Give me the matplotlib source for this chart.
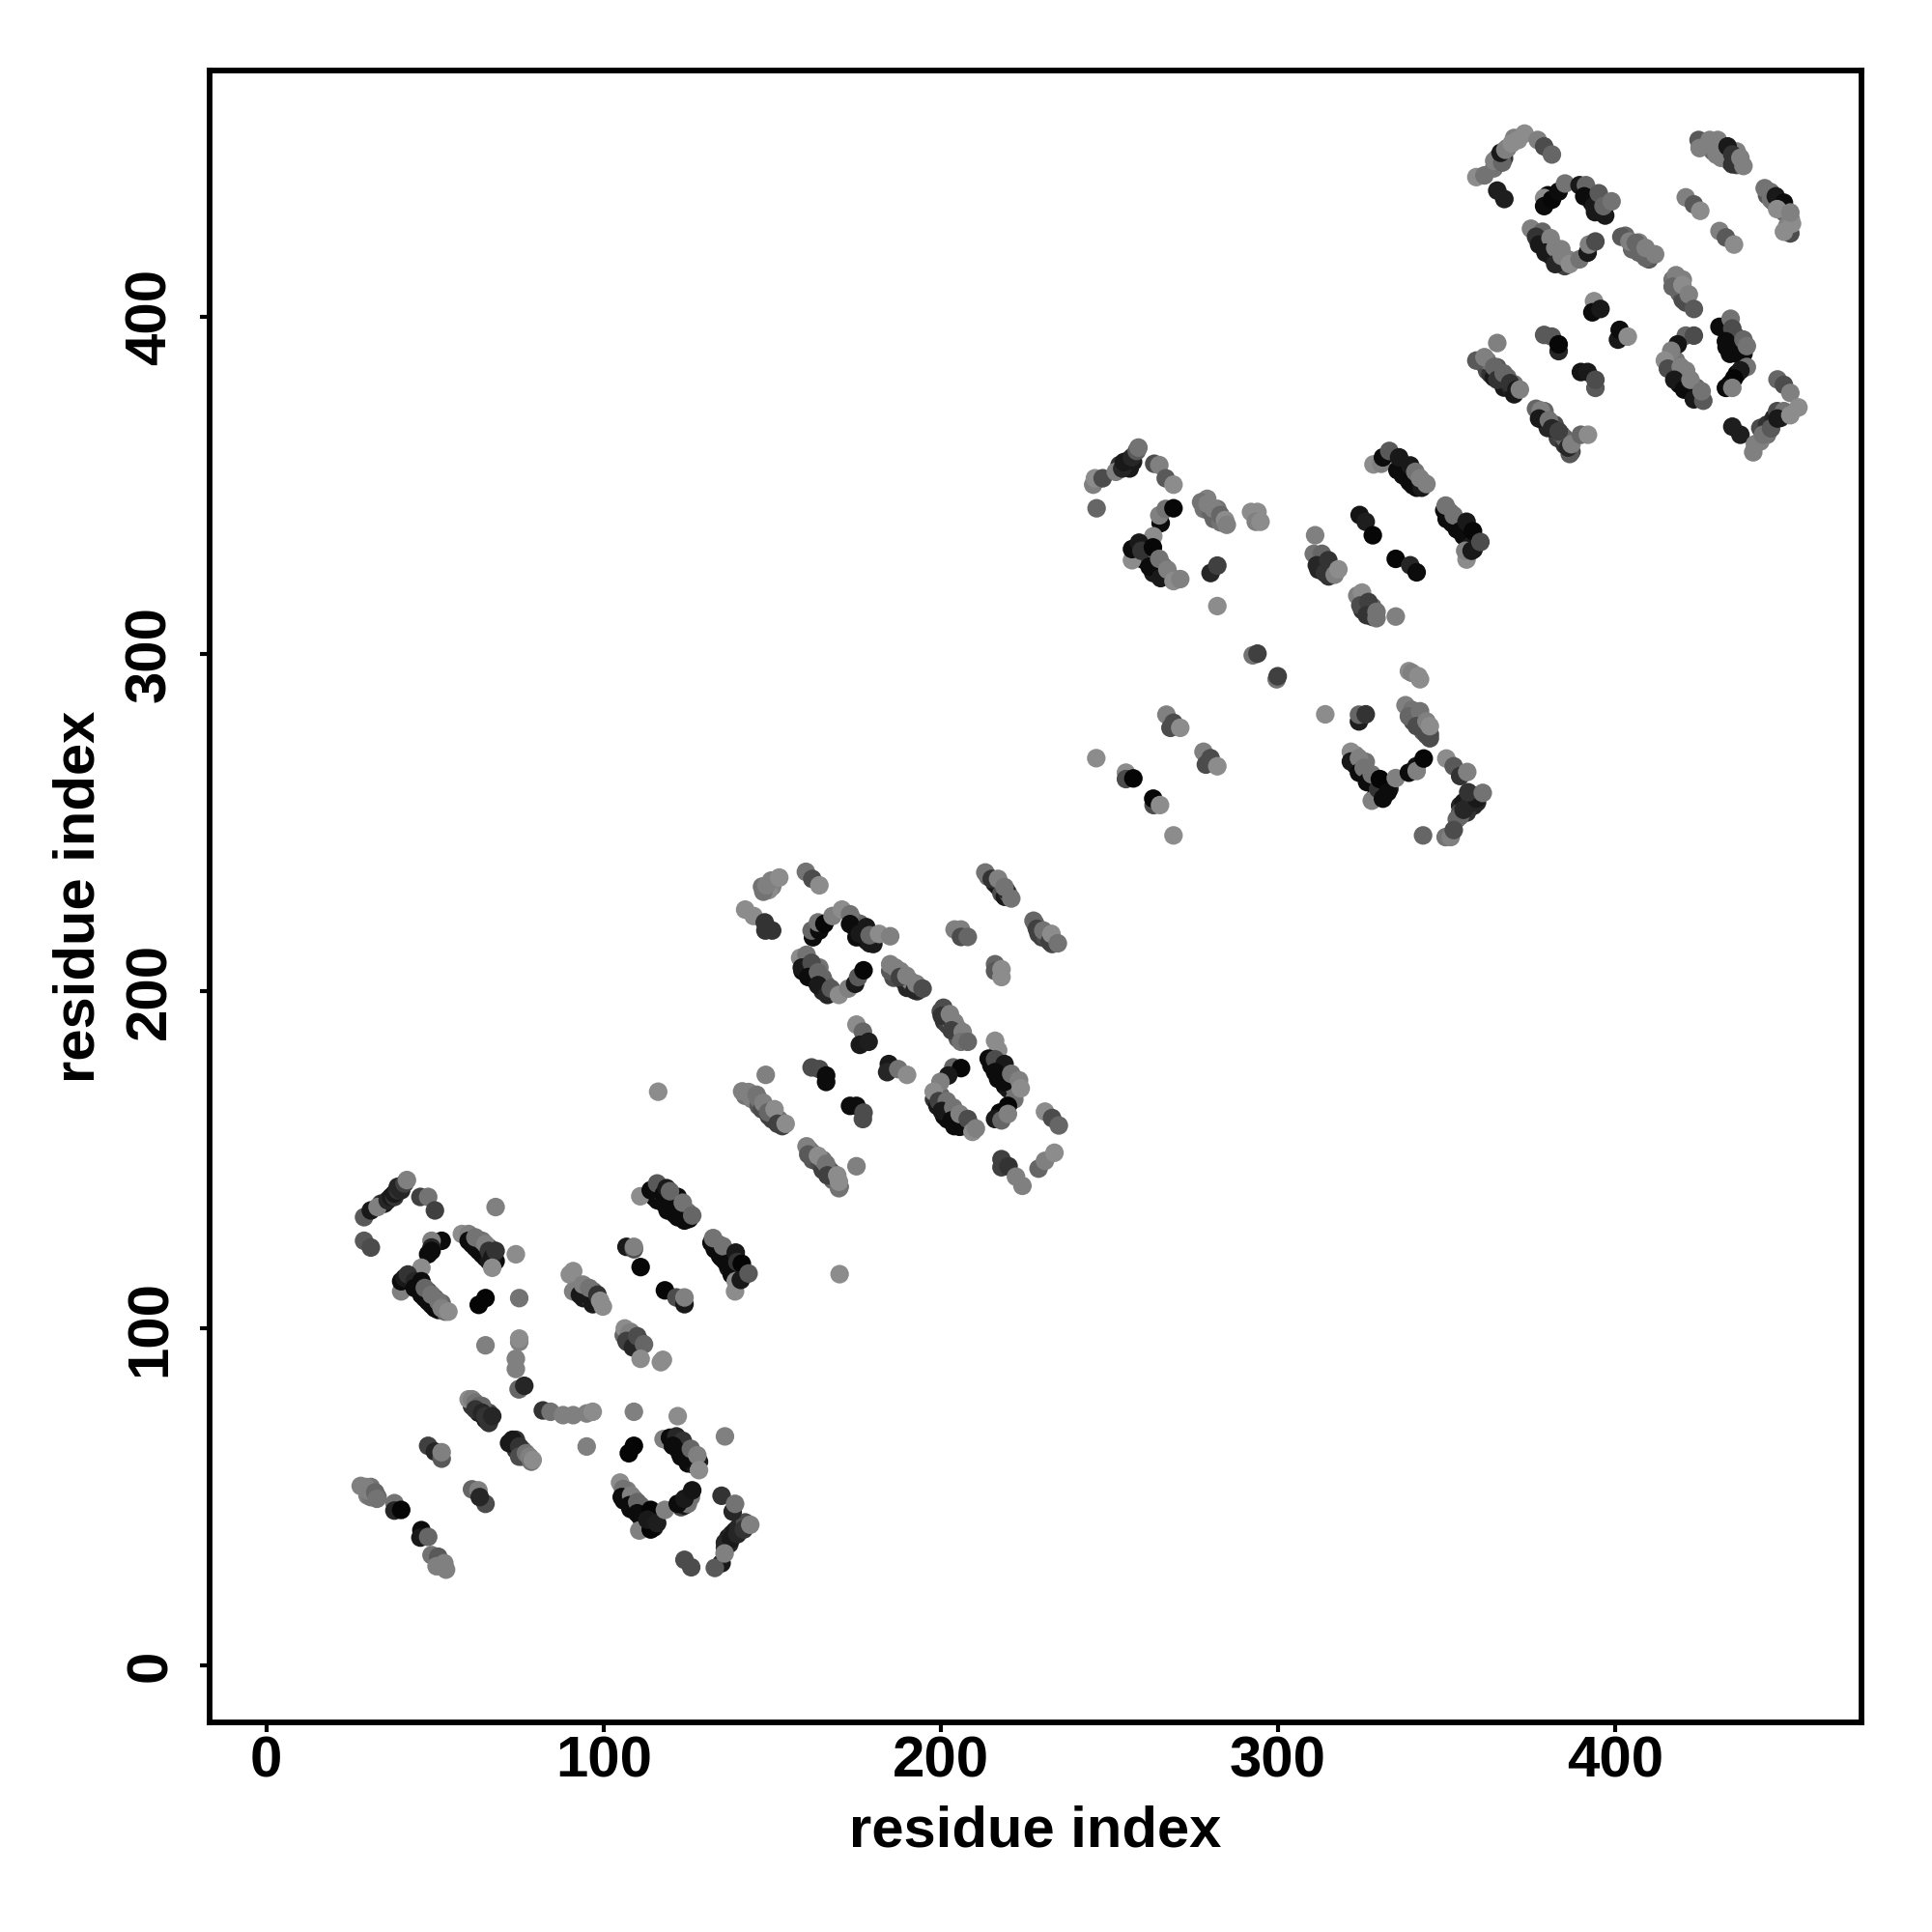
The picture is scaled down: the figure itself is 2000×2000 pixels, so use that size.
# -*- coding=utf-8 -*-
import matplotlib
matplotlib.use('Agg')
import matplotlib.pyplot as plt
import numpy as np

plt.rcParams['font.family'] = ['Liberation Sans', 'DejaVu Sans']
plt.rcParams['font.weight'] = 'bold'

# (residue i, residue j, grey level), one list per repeat
block1 = [
    (29,133,.35),(31,135,.1),(33,136,.5),(36,138,.15),(37,139,.1),(38,139,.2),(38,140,.1),(39,141,.2),
    (39,142,.15),(40,141,.15),(41,143,.25),(41.7,144,.5),(45.7,139,.25),(48,139,.45),(50,135,.25),
    (29,126,.35),(31,124,.3),(52,126,.05),(49,126,.5),(49,124,.15),(48,122,.05),(49,123,.05),(46,118,.55),
    (58,128,.55),(60,128,.5),(60,126,.05),(62,124,.05),(64,122,.05),(66,120,.1),(68,120,.05),
    (62,127,.45),(64,126,.45),(65,125,.5),(66,123,.2),(67,121,.1),(68,123,.2),(67,118,.55),(74,122,.55),(68,136,.5),
    (40,111,.5),(40,114,.05),(41,115,.1),(42,116,.2),(44,114,.15),(46,114,.05),(44,112,.05),(46,110,.05),
    (48,108,.05),(50,106,.05),(47,112,.4),(49,110,.45),(51,108,.45),(52,106,.5),(54,105,.55),
    (63,107,.02),(65,109,.02),(75,109,.45),(65,95,.5),(75,96,.5),(75,97,.55),(74,91,.5),(74,88,.5),
    (74.8,82,.45),(75,82,.4),(76.5,83,.15),
    (60,79,.55),(61,79,.5),(62,78,.45),(63,77,.4),(62,76,.2),(64,75,.15),(65,74,.2),(66,72,.2),(67,74,.15),
    (72,66,.1),(73,67,.1),(75,65,.2),(75,62,.3),(77,63,.45),(78,62,.5),(78.6,60.5,.45),(79,61,.55),
    (82,75.7,.2),(84.3,75.3,.45),(88,74.3,.5),(91,74.3,.5),(95,74.8,.5),(96.8,75.3,.55),
    (109,75.3,.5),(122,74,.55),(136,68,.5),(95,65,.5),(107.5,63,.02),(109,65.2,.02),
    (48,65.2,.25),(50,63.5,.15),(52,61.4,.35),(52,63.3,.5),
    (28,53.3,.5),(29.5,53,.5),(30,52,.5),(32.3,51.4,.4),(32.8,49.5,.45),(38,48.2,.45),(38,46,.15),(40,46.2,.02),
    (46,40.2,.05),(45.7,38,.1),(48,38.2,.4),(49,32.8,.45),(51,32.3,.35),(50.5,29.5,.5),(52.8,30.4,.5),(53.3,28.5,.5),
    (61,52.3,.4),(62.9,52,.5),(65,48,.3),(63.3,50,.15),
    (117.8,67.2,.5),(119.7,67.6,.05),(121.6,68,.15),(123.5,66.7,.2),(120.6,65.2,.05),(122.5,63.3,.05),
    (124.4,61.4,.05),(125.9,64.3,.4),(128.3,60.5,.1),(127.8,62.4,.5),(128.3,58,.55),
    (104.9,54.3,.55),(105.8,52.4,.45),(105.4,50,.05),(108.2,50.5,.5),(107.7,47.6,.05),(110,48.5,.4),(110,45.2,.05),
    (110.6,40.1,.5),(114,46.2,.02),(114,40.4,.02),(113,43.3,.1),(115.9,42.3,.12),(118.2,46.2,.5),
    (122,48,.05),(125.9,50,.45),(124,49.5,.1),(126.3,52,.08),
    (135,50.4,.2),(138.3,45.7,.15),(139,48,.45),(137.3,36.1,.15),(137.8,37.6,.1),(139.7,39,.15),(141.6,40.4,.2),(143.5,41.8,.5),
    (135,30.4,.1),(133,29,.35),(135.9,33.3,.5),(124,31.4,.3),(126,29.2,.3),
    (110.9,139.2,.55),(114,141,.05),(115.9,143,.35),(117.8,139.7,.05),(118.7,141.6,.1),(122,139,.05),(120.6,136.8,.05),
    (123.5,134.5,.05),(125.4,132.5,.05),(119.7,140.7,.4),(123.5,137.3,.45),(126.3,133.5,.4),
    (132,125.4,.05),(132.5,126.8,.45),(134.5,121.6,.05),(135.4,124.4,.45),(136.8,119.2,.05),(139.2,114,.55),(139,111,.55),
    (139.2,122.5,.1),(139.7,119.7,.2),(141,119.2,.02),(140.7,114.4,.1),(143,116.3,.35),
    (106.8,124.2,.1),(109,123.5,.3),(109,124.2,.5),(111,118.2,.03),(118.2,111.3,.03),(121.6,109.2,.3),(124,107.2,.1),(124,109.2,.5),
    (90,116,.55),(91,117,.55),(91,111,.5),(93,110,.1),(93.9,113,.5),(96.8,107.2,.1),(95.8,112,.45),(98.2,110,.2),(99,108.2,.55),(99.8,106.5,.55),
    (106.3,100,.55),(107.7,98.7,.5),(106.8,96.3,.25),(108.7,94.4,.15),(110,97.7,.3),(112,95.3,.4),(111,91,.55),(117,90,.55),(117.6,90.7,.55),
]
block2 = [
    (147.4,229.5,.45),(148.3,231.4,.5),(149.7,232.8,.5),(152.1,233.7,.55),(160,235.4,.45),(161.9,233.3,.3),(164,231.4,.55),
    (142,224.2,.55),(144.5,222.3,.55),(147.8,220.4,.2),(148,218,.2),(150,218,.2),
    (162.1,216,.05),(161.7,218,.4),(164,218,.05),(163.6,220.4,.45),(165.5,220,.03),(167.9,222.3,.5),(170.7,224.2,.55),
    (173.1,222.8,.45),(173.1,219.9,.05),(176,217,.1),(177.9,219,.1),(178.9,214.2,.1),(178.9,216.6,.4),(181.7,217,.55),(185,216.3,.5),
    (158.3,209.9,.55),(160.2,210.8,.45),(158.8,207,.1),(161.7,208.4,.3),(160.7,204.2,.05),(163.6,205.6,.4),(163.6,201.8,.1),
    (166.4,198.9,.15),(167.4,200.8,.35),(169.8,198.9,.55),(172.6,200.8,.5),(174.6,202.2,.1),(175.5,204.2,.35),(177.1,206.2,.03),
    (185,206,.35),(185,208,.5),(186.5,207,.5),(187.9,204.2,.25),(189.8,204.6,.5),(192.2,200.3,.15),(192.7,202.2,.5),(194.6,200.8,.3),
    (200.8,195.1,.3),(200.3,192.7,.2),(202.7,193.2,.5),(204.1,190.8,.5),(203.2,188.4,.25),(206.5,187.9,.5),(206,185,.45),(208,185,.4),
    (216.1,185.3,.55),(217,182.5,.55),
    (214.2,180,.05),(216.1,179.8,.3),(218.9,178.4,.1),(216.1,176,.05),(218.9,173.1,.05),(220.9,175.5,.45),(223.2,173.6,.5),
    (221.8,167.9,.45),(223.7,171.2,.55),(219.9,166,.02),(217.5,164,.03),(216.1,162.1,.1),(218,161.7,.4),(219.9,163.6,.5),
    (203.7,177.4,.4),(206,177.2,.03),(202.2,175,.1),(199.9,173.1,.5),(197.9,170.2,.55),(199.4,167.4,.25),
    (201.8,167.4,.45),(200.3,164.5,.1),(203.7,165.5,.45),(203.2,161.7,.05),(205.6,159.8,.05),(205.6,163.6,.5),(208,162.1,.3),
    (209.4,158.3,.55),(210.4,159.3,.5),
    (148.1,175.2,.5),(161.7,177.4,.3),(164,176.9,.3),(166,175,.05),(166,173.1,.05),
    (184.6,178.4,.1),(184.1,176,.15),(187.4,176.9,.45),(190,175.2,.55),
    (173.1,166,.05),(175,166,.05),(176.9,162.1,.3),(177.1,164,.3),
    (175,190.1,.55),(176.9,188,.4),(176,184.1,.1),(178.6,185,.12),
    (141.1,170.3,.5),(143,170.1,.5),(145.4,169.3,.45),(147.4,166.9,.5),(148.8,164.1,.4),(150.7,165,.55),(151.6,160.7,.25),(154,160.7,.55),
    (160.2,154,.5),(160.7,151.6,.35),(163.6,151.2,.55),(166,148.8,.45),(166.4,145.4,.25),(169.8,141.6,.45),(169.3,145.4,.55),(169.8,143.5,.55),
    (175,148.1,.5),(170,116.1,.55),(116.2,170.2,.55),
    (230.9,164.3,.55),(233,162.4,.3),(235,160.2,.4),
    (218,150.2,.25),(218,147.8,.25),(220.1,148.1,.2),(222.3,145,.5),(224.2,142.3,.5),
    (229,147.4,.4),(230.9,149.7,.5),(233.7,152.1,.55),
    (213.2,235.2,.45),(215.1,233.3,.2),(217,233.3,.5),(219.4,229.9,.15),(218.9,230.9,.45),(220.9,227.5,.45),
    (227.5,220.9,.4),(228.5,218.5,.25),(230.4,218,.45),(232.3,214.7,.25),(232.8,217,.55),(234.7,214.2,.45),
    (204.1,218.3,.5),(206,218.3,.5),(206,216.1,.3),(208,216.1,.4),
    (216.1,208,.4),(216.1,206,.35),(218,206.5,.55),(218,204.2,.55),
]
block3 = [
    (245.2,350.2,.5),(245.7,352.1,.55),(248,352.1,.3),(251.9,354,.5),(253.8,355,.15),(254.3,356.9,.1),(255.7,357.4,.1),
    (256.7,358.3,.15),(258.1,360.2,.35),(258.6,361.2,.45),(263.3,356.4,.3),(264.8,356,.5),(266.7,352.1,.35),(269,350.2,.55),
    (246.2,343.2,.4),(265.2,338.8,.05),(264.8,341.1,.5),(266.7,343,.45),(269,343.2,.03),(263,334.9,.55),
    (256.7,327.8,.55),(256.7,331.1,.05),(258.8,333,.1),(259.5,330.6,.2),(262.9,331.6,.03),(261.9,325.9,.05),(264.8,328.2,.45),
    (265.2,322.5,.1),(267.2,325,.5),(269,321.6,.55),(271,322.2,.5),
    (280,324,.15),(282,326.2,.25),(282,314.2,.55),
    (277.2,345,.45),(279.1,344.5,.5),(281,343,.5),(282.9,341.2,.4),(284.3,339.7,.55),(284.8,338.3,.5),
    (292,342.1,.55),(293.9,342.1,.55),(293.4,339.2,.5),(294.8,339.2,.55),
    (292.5,299.6,.45),(293.9,300.1,.25),(299.6,292.5,.45),(299.9,293.4,.25),
    (311,335.2,.5),(310.6,329.7,.45),(313,329.7,.4),(311.5,326.3,.15),(314.9,327.8,.2),(313.9,324,.2),(316.8,323.5,.5),(317.9,325.1,.55),
    (323.5,317.3,.5),(324.9,318.2,.55),(324.4,314.4,.3),(326.8,315.4,.25),(326.3,311.5,.2),(329.2,310.6,.45),(329.2,312.5,.45),(334.9,311.1,.5),
    (324.2,341.2,.08),(326,339.2,.12),(328.1,335.2,.03),(334.9,328.2,.03),(339.2,326.3,.15),(341.1,324.2,.05),
    (328.3,356.2,.55),(330.6,356.4,.5),(331.1,358.3,.05),(333,360.2,.35),(335.4,354.5,.05),(335.9,358.3,.1),(338.3,352.1,.05),
    (339.2,355.9,.1),(340.7,354,.45),(341.1,349.3,.05),(342.6,349.3,.1),(342.1,352.1,.5),(344,350.4,.5),
    (349.3,342.6,.05),(349.7,344,.45),(351.6,338.8,.05),(352.1,341.1,.45),(354,336.4,.05),(355.9,339.2,.1),(355.9,328,.55),
    (355.5,330.6,.5),(357.4,330.6,.1),(357.8,336.4,.03),(360,333.2,.3),
    (266.9,282,.5),(268.1,278.1,.3),(269,279.6,.3),(271,278.1,.55),
    (277.9,271,.5),(278.6,267.2,.3),(280,269.1,.3),(282,266.7,.55),
    (246.1,269.1,.55),(254.9,264.8,.55),(254.9,262.9,.3),(257.1,263.1,.02),
    (263.1,255.2,.3),(263,257.1,.03),(265,255.2,.55),(269,246.2,.55),
    (314,282.1,.55),(324,280,.12),(324,282,.4),(326,282.1,.2),
    (338.8,294.9,.55),(339.7,294.4,.5),(341.6,293.4,.55),(342.1,292.5,.55),
    (337.8,284.8,.5),(339.7,283.4,.45),(338.8,281.5,.4),(342.1,283,.45),(341.1,278.6,.3),(344,280,.5),(345,276.2,.3),(345,278.6,.55),
    (321.6,271,.55),(321.6,268.1,.1),(324,269.1,.5),(324,264.8,.05),(325.4,266.2,.45),(326.4,262,.05),(327.8,264.3,.45),
    (327.8,256.5,.5),(329.7,260,.2),(330.2,262.9,.02),(331.1,257.1,.05),(332.5,259,.05),(334.9,263.2,.5),
    (338.8,264.8,.05),(341,266.7,.08),(341.1,265.3,.5),(343.2,269,.03),(343,246.2,.4),
    (349.9,269,.55),(352.1,266.7,.35),(354,263.8,.2),(356.1,265,.5),
    (354,251.9,.4),(355,253.8,.15),(356.9,255.7,.15),(358.8,257.1,.1),(356.4,259,.2),(360.7,258.8,.45),
    (349.7,245.7,.45),(351.2,245.7,.5),(352.1,247.8,.3),
]
block4 = [
    (358.8,441.4,.55),(361.2,441.9,.45),(364.1,446.2,.5),(366.5,445.7,.4),(366,448.6,.1),(367.4,449.5,.5),(369.3,451.4,.55),
    (371.2,452.4,.55),(373.1,454.3,.55),(377,452.4,.5),(378.9,450.5,.3),(381.2,448.1,.4),(365,437.4,.12),(367.1,434.9,.12),
    (378.9,435.2,.55),(378.9,432.8,.05),(381.2,434.7,.03),(383.2,437.1,.05),(385.1,439.5,.45),(389.4,439,.1),(391.3,439,.4),
    (390.8,435.7,.05),(393.7,432.8,.1),(395.1,436.6,.35),(396.5,431.4,.1),(396.5,432.8,.4),(398.9,434.2,.45),
    (375,426.1,.5),(378.4,425.2,.4),(376.5,423.7,.2),(377.4,421.4,.1),(380.8,423.3,.5),(379.3,419,.1),(382.2,420.4,.5),(382.2,415.6,.15),
    (384.1,418,.5),(386.5,415.6,.55),(389.4,417,.45),(391.8,419,.1),(392.2,421.4,.5),(394.1,422.3,.3),
    (401.8,423.7,.35),(404.2,422.3,.5),(406.1,421.9,.4),(409,417.5,.4),(409,420.4,.5),(411.8,418.5,.5),
    (418,412.3,.5),(417,408.9,.4),(419.9,409.4,.55),(420.9,404.2,.3),(421.8,406.6,.5),(423.3,402.3,.35),
    (424.7,452.4,.35),(425,450,.5),(428,452.4,.5),(430.4,452.4,.5),(431.4,447.1,.5),(433.3,450.5,.1),(434.7,448.1,.2),(434.7,445.2,.2),(437.1,447.1,.5),(438,444.7,.5),
    (444.3,438.1,.45),(446.2,434.7,.45),(447.6,435.7,.1),(450,433.8,.05),(448,431.9,.55),(451.9,424.7,.3),(450,425.2,.55),(452.4,427.6,.55),(451.9,430.9,.5),
    (420.9,435.4,.5),(423.3,433.3,.35),(425.2,431.4,.55),(430.9,425.4,.5),(432.8,423.5,.35),(435.2,421.4,.55),
    (365,392.2,.5),(358.8,387,.35),(361.2,388,.5),(364.1,385.1,.4),(365,381.3,.2),(366.9,383.2,.4),(368.8,380.3,.2),(370.7,378.4,.1),(371.7,378.4,.5),
    (376.5,372.7,.4),(377.9,372.2,.5),(377.4,369.8,.1),(380.3,369.3,.45),(381.2,366.9,.15),(383.2,366,.25),(386.5,359.3,.35),(386,361.2,.15),(387,362.2,.5),(389.8,365,.4),(391.9,365,.55),
    (378.9,394.6,.35),(381.2,394.1,.35),(383.2,389.8,.15),(383.2,391.8,.03),
    (389.8,383.6,.08),(391.8,383.6,.1),(394.1,378.9,.35),(394.1,381.3,.3),
    (393.7,404.6,.55),(393.2,401.3,.05),(395.6,402.3,.1),(400.8,393.2,.1),(401.3,396.1,.05),(403.7,394.1,.55),
    (420.9,394.4,.4),(423.3,394.4,.3),(418.5,391.8,.08),(416.6,389.9,.5),(414.7,387,.55),(415.6,384.6,.3),(419.4,385.1,.5),(417.5,381.3,.1),
    (420.4,378.4,.05),(423.3,375.5,.1),(422.3,381.3,.5),(426.1,375.1,.35),(425.6,377.9,.45),
    (430.9,397,.05),(434.2,399.4,.45),(434.7,396.5,.3),(432.8,392.7,.05),(435.7,390.3,.05),(438,393.2,.4),(439,391.3,.45),
    (439,385.1,.45),(437.1,384.1,.1),(435.2,381.7,.02),(432.8,378.9,.05),(434.7,378.9,.5),(434.7,367.4,.12),(437.1,365,.12),
    (448.1,381.4,.4),(450,379.8,.3),(451.9,377.4,.5),(440.9,359.8,.5),(441.4,362.2,.5),(443.8,365,.45),(446.2,366.9,.35),(448.1,369.8,.1),(451.9,370.8,.55),(454.3,373.1,.55),
]
# circles half hidden inside the dense runs, they go under the ones above
under1 = [
    (34,137,.2),(35,137,.1),(61,125,.05),(63,123,.05),(65,121,.05),(67,119,.05),(61,127,.4),(63,126,.35),(66,124,.3),(67,122,.1),
    (45,113,.05),(47,109,.05),(49,107,.05),(51,105.5,.05),(53,105,.4),(48,111,.3),(50,109,.35),(52,107.5,.4),(45,115,.2),
    (61,77,.2),(63,75,.1),(65,73,.1),(66,75,.3),(64,77,.4),(74,64,.2),(76,62,.3),(76,64,.4),(74,67,.2),
    (30,50.5,.5),(31,53,.45),(33,50,.4),(31,50,.45),
    (120,66,.05),(122,66,.1),(123,62,.05),(125,60,.05),(126,62,.1),(127,59.5,.1),(124,65,.3),(126,63,.4),
    (106,49,.05),(107,49,.1),(108,46.5,.05),(109,47,.1),(111,44,.05),(112,44,.05),(107,52,.5),(109,49.5,.45),(111,47.5,.4),(112,41,.05),(115,44,.1),(115,41,.1),
    (123,47,.3),(124,47.5,.1),(125,48,.45),
    (137,38,.1),(138,39,.15),(139,40,.1),(140,41,.15),(141,42,.15),(142,42.5,.3),(136,35,.2),(136,36.5,.15),
    (115,139,.05),(116,138,.05),(118,137,.05),(119,135,.05),(121,134,.05),(122,133,.05),(124,132,.05),(116,141,.3),(120,139,.3),(122,137,.4),(124,135,.4),(125,134.5,.45),
    (133,123.5,.05),(135,121,.05),(136,120,.05),(137,118,.1),(138,116,.05),(134,125,.4),(136,123,.4),(137,122,.4),(139,117,.05),(140,116,.1),(141,117,.1),(138,120,.3),
    (92,112,.3),(93,111,.2),(94,109,.1),(95,110,.2),(96,109,.4),(97,111,.4),(98,108,.4),
    (106,98,.4),(107,96,.2),(108,96,.2),(109,95,.15),(109,97,.3),(110,95,.3),(111,96,.45),(108,99,.5),
]
under2 = [
    (147,231,.45),(150,231,.5),(149,230,.55),
    (175,218,.05),(174,221,.3),(176,220,.4),(178,215,.1),(180,214,.1),(180,216,.2),(177,216,.05),(175,216,.05),
    (159,206,.05),(161,206,.15),(162,204,.05),(163,203,.1),(165,200,.15),(165,204,.4),(166,202,.4),(168,200,.4),(160,209,.4),(162,207,.4),(164,207,.45),
    (186,204,.3),(188,206,.5),(189,203,.25),(190,201,.15),(191,203,.5),(193,200,.2),
    (200,194,.3),(201,191,.2),(202,190,.25),(203,191,.5),(204,188,.3),(205,189,.5),(205,186,.35),(207,186,.45),
    (215,178,.05),(217,174,.05),(218,176,.1),(219,172,.05),(220,171,.1),(221,173,.4),(222,171,.45),(219,176,.4),
    (198,168,.2),(199,166,.1),(201,163,.05),(202,162,.05),(204,160,.05),(200,169,.4),(202,165,.45),(204,164,.4),(206,161,.25),(207,160,.1),(209,160,.3),
    (142,169,.45),(144,168,.5),(146,166,.35),(146,168,.45),(147,165,.3),(149,163,.25),(150,162,.25),(150,164,.4),(152,162,.45),(153,160,.25),
    (161,153,.4),(162,150,.35),(162,152,.45),(164,149,.3),(165,147,.25),(165,150,.45),(167,147,.4),(168,144,.4),(168,146,.3),(170,142,.35),
    (214,234,.4),(216,232,.15),(217,231,.1),(218,229,.3),(219,228,.1),(220,229,.4),
    (228,220,.35),(229,217,.25),(230,216,.25),(231,216,.3),(233,214,.3),(233,216,.45),
]
under3 = [
    (337,353,.05),(339,351,.05),(340,350,.05),(337,356,.3),(338,354,.4),(343,351,.4),
    (350,340,.05),(351,342,.4),(353,337,.05),(354,339,.4),(355,335,.05),(356,334,.05),(357,332,.1),(358,331,.1),(358,334,.1),(356,337,.3),
    (258,329,.1),(260,328,.05),(262,328,.2),(263,324,.1),(264,324,.1),(266,326,.4),(266,323,.15),(268,323,.4),(263,329,.35),
    (255,356,.15),(256,355,.1),(257,357,.1),(253,356,.2),
    (312,328,.4),(313,327,.3),(312,325,.15),(315,325,.3),(315,323,.2),(316,325,.5),
    (325,316,.4),(325,313,.2),(327,313,.15),(328,311,.2),(328,314,.4),
    (278,343,.45),(280,342,.4),(281,340,.4),(283,339,.45),(279,346,.5),(282,343,.45),
    (339,282,.35),(340,280,.3),(341,281,.45),(343,279,.45),(343,277,.35),(344,276,.3),(345,275,.3),
    (323,267,.1),(323,270,.5),(325,265,.05),(326,268,.45),(327,263,.05),(328,262,.05),(329,258,.1),(329,263,.05),(331,260,.05),(331,261,.1),(333,260,.1),(330,258,.05),
    (354,255,.15),(355,256,.1),(357,257,.15),(358,255,.15),(356,253,.2),(354,253,.3),(353,251,.4),(359,258,.2),(359,256,.15),
]
under4 = [
    (364,444,.45),(365,447,.3),(367,447,.2),(368,450,.4),(370,453,.5),
    (380,436,.03),(393,434,.05),(392,437,.3),(394,431,.1),(395,433,.1),(397,430,.1),
    (377,423,.1),(378,422,.05),(380,421,.1),(381,418,.1),(382,417,.1),(383,418,.3),(384,416,.2),(379,424,.4),(381,422,.45),(384,420,.5),(386,417,.5),(385,415,.25),
    (403,424,.4),(405,420,.4),(407,419,.4),(407,422,.5),(410,417,.35),
    (417,411,.45),(418,409,.4),(419,407,.4),(420,405,.3),(420,411,.5),
    (429,449,.4),(430,448,.5),(432,448,.3),(433,447,.15),(434,446,.15),(436,445,.3),(429,451,.5),(436,449,.5),
    (445,436,.35),(447,434,.3),(448,434,.2),(449,433,.1),(450,431,.4),(451,427,.5),(452,429,.5),(446,437,.45),
    (361,386,.45),(362,384,.3),(363,383,.2),(364,382,.1),(366,381,.25),(367,379,.1),(369,379,.15),(370,377,.1),(362,387,.45),(365,385,.35),(368,382,.4),(370,380,.45),
    (378,371,.2),(379,369,.1),(379,372,.4),(380,367,.15),(382,368,.3),(383,364,.25),(384,365,.3),(385,362,.2),(385,364,.4),(387,360,.3),
    (416,386,.4),(418,382,.2),(417,386,.3),(419,380,.05),(420,382,.1),(421,380,.1),(422,378,.1),(424,377,.05),(424,379,.4),(418,387,.45),(424,376,.2),(421,384,.5),
    (433,391,.05),(434,389,.05),(436,389,.05),(436,394,.3),(437,392,.3),(437,391,.1),(438,389,.05),(436,383,.02),(434,380,.03),
    (443,367,.3),(445,368,.2),(447,370,.15),(445,365,.45),(448,372,.3),(449,370,.15),(450,372,.45),(443,363,.5),
]
tick_values = [0, 100, 200, 300, 400]
axis_label = 'residue index'

fig = plt.figure(figsize=(10, 10), dpi=200)
ax = fig.add_axes([0.1085, 0.1085, 0.855, 0.855])

for block in (under1, block1, under2, block2, under3, block3, under4, block4):
    pts = np.array(block)
    ax.scatter(pts[:, 0], pts[:, 1], s=48, c=pts[:, 2], cmap='gray', vmin=0, vmax=1,
               linewidths=0, zorder=2)

ax.set_xlim(-16.8, 473)
ax.set_ylim(-16.8, 473)
ax.set_xticks(tick_values)
ax.set_yticks(tick_values)
ax.tick_params(length=3.5, width=1.5, labelsize=21.6)
ax.tick_params(axis='x', pad=1.5)
ax.tick_params(axis='y', pad=8.5)
for lab in ax.get_yticklabels():
    lab.set_rotation(90)
    lab.set_va('center')
for sp in ax.spines.values():
    sp.set_linewidth(2.1)
ax.set_xlabel(axis_label, fontsize=21.5, fontweight='bold', labelpad=6)
ax.set_ylabel(axis_label, fontsize=21.5, fontweight='bold', labelpad=7)

fig.savefig('out.png', dpi=200, facecolor='white')
